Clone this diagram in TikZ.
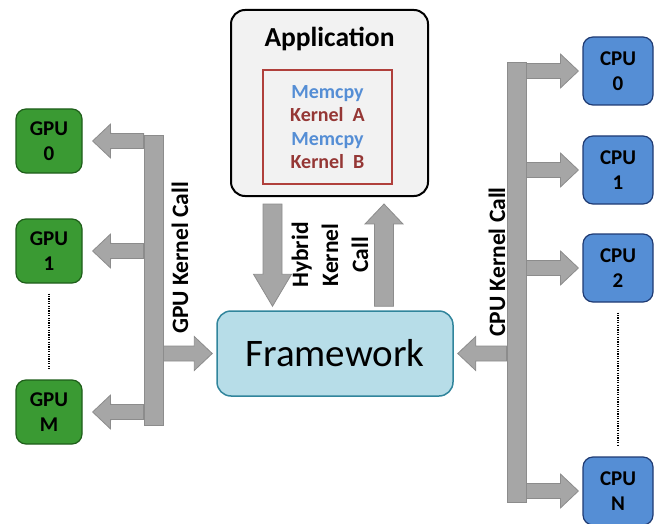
\documentclass[tikz,border=0pt]{standalone}
\usepackage{fontspec}
\setmainfont{Carlito}
\usetikzlibrary{calc}

\definecolor{appfill}{HTML}{F2F2F2}
\definecolor{listedge}{HTML}{B0403C}
\definecolor{memblue}{HTML}{558ED5}
\definecolor{kernred}{HTML}{953735}
\definecolor{fwfill}{HTML}{B7DDE8}
\definecolor{fwedge}{HTML}{31859C}
\definecolor{gpufill}{HTML}{3A9A33}
\definecolor{gpuedge}{HTML}{1E5E1A}
\definecolor{cpufill}{HTML}{558ED5}
\definecolor{cpuedge}{HTML}{1F3B73}
\definecolor{arrowfill}{HTML}{A6A6A6}
\definecolor{arrowedge}{HTML}{8C8C8C}

\tikzset{
  blk sw/.store in=\blksw, blk hw/.store in=\blkhw, blk hl/.store in=\blkhl,
  blk sw=7.5, blk hw=17, blk hl=18,
  blk/.style={draw=arrowedge, fill=arrowfill, line width=0.8pt, line join=miter,
    to path={
      \pgfextra{
        \pgfmathsetmacro\blkra{veclen(\blkhl,\blksw)}
        \pgfmathsetmacro\blkta{atan2(\blksw,\blkhl)}
        \pgfmathsetmacro\blkrb{veclen(\blkhl,\blkhw)}
        \pgfmathsetmacro\blktb{atan2(\blkhw,\blkhl)}
      }
      ($(\tikztostart)!\blksw pt!90:(\tikztotarget)$)
      -- ($(\tikztotarget)!\blkra pt!-\blkta:(\tikztostart)$)
      -- ($(\tikztotarget)!\blkrb pt!-\blktb:(\tikztostart)$)
      -- (\tikztotarget)
      -- ($(\tikztotarget)!\blkrb pt!\blktb:(\tikztostart)$)
      -- ($(\tikztotarget)!\blkra pt!\blkta:(\tikztostart)$)
      -- ($(\tikztostart)!\blksw pt!-90:(\tikztotarget)$)
      -- cycle}},
  bar/.style={draw=arrowedge, fill=arrowfill, line width=0.8pt, inner sep=0pt, minimum width=19},
  gpubox/.style={draw=gpuedge, fill=gpufill, line width=1.2pt, rounded corners=10,
    minimum width=66, minimum height=64, inner sep=0pt, align=center,
    font=\fontsize{21}{25}\selectfont\bfseries},
  cpubox/.style={gpubox, draw=cpuedge, fill=cpufill, minimum width=70, minimum height=68},
  lbl/.style={inner sep=0pt, align=center, font=\fontsize{23.5}{30}\selectfont\bfseries},
  dots/.style={line width=1.2pt, dash pattern=on 1.2pt off 1.2pt, shorten <=10pt, shorten >=10pt}
}

\begin{document}
\begin{tikzpicture}[x=1pt,y=1pt]
  \useasboundingbox (0,0) rectangle (655,523);

  \node[draw, line width=2pt, fill=appfill, rounded corners=14, minimum width=197, minimum height=186] (app) at (329.5,420) {};
  \node[anchor=base, inner sep=0pt, font=\fontsize{27.5}{30}\selectfont\bfseries] (apptitle) at (329.5,476) {Application};
  \node[draw=listedge, line width=1.2pt, minimum width=129, minimum height=114, inner sep=0pt, align=center,
        font=\fontsize{20}{23.5}\selectfont\bfseries] (list) at (327.5,396)
        {\color{memblue}Memcpy\\ \color{kernred}Kernel\ \ A\\ \color{memblue}Memcpy\\ \color{kernred}Kernel\ \ B};

  \node[draw=fwedge, fill=fwfill, line width=1.5pt, rounded corners=14, minimum width=236, minimum height=85,
        inner sep=0pt, font=\fontsize{39}{42}\selectfont] (fw) at (335,169.5) {Framework};

  \node[gpubox] (gpu0) at (49,382) {GPU\\0};
  \node[gpubox] (gpu1) at (49,272) {GPU\\1};
  \node[gpubox] (gpum) at (49,111) {GPU\\M};

  \node[cpubox] (cpu0) at (618,452) {CPU\\0};
  \node[cpubox] (cpu1) at (618,353) {CPU\\1};
  \node[cpubox] (cpu2) at (618,255) {CPU\\2};
  \node[cpubox] (cpun) at (618,32) {CPU\\N};

  \draw[dots] (gpu1.south) -- (gpum.north);
  \draw[dots] (cpu2.south) -- (cpun.north);

  \node[bar, minimum height=290] (gbar) at (153.5,243) {};
  \draw[blk] (gbar.west |- gpu0.east) to ([xshift=10]gpu0.east);
  \draw[blk] (gbar.west |- gpu1.east) to ([xshift=10]gpu1.east);
  \draw[blk] (gbar.west |- gpum.east) to ([xshift=10]gpum.east);
  \draw[blk] (gbar.east |- fw.west) to ([xshift=-4]fw.west);

  \node[bar, minimum height=440] (cbar) at (516.5,241) {};
  \draw[blk] (cbar.east |- cpu0.west) to ([xshift=-4]cpu0.west);
  \draw[blk] (cbar.east |- cpu1.west) to ([xshift=-4]cpu1.west);
  \draw[blk] (cbar.east |- cpu2.west) to ([xshift=-4]cpu2.west);
  \draw[blk] (cbar.east |- cpun.west) to ([xshift=-4]cpun.west);
  \draw[blk] (cbar.west |- fw.east) to ([xshift=4]fw.east);

  \draw[blk, blk sw=9.5, blk hw=19, blk hl=32] ([xshift=-57,yshift=-7]app.south) to ([xshift=-62.5,yshift=4]fw.north);
  \draw[blk, blk sw=9.5, blk hw=19, blk hl=20] ([xshift=49,yshift=4]fw.north) to ([xshift=54.5,yshift=-7]app.south);

  \node[lbl, rotate=90] (glbl) at (180,265) {GPU Kernel Call};
  \node[lbl, rotate=90] (clbl) at (497,261) {CPU Kernel Call};
  \node[lbl, rotate=90] (hlbl) at (330,268) {Hybrid\\Kernel\\Call};
\end{tikzpicture}
\end{document}
